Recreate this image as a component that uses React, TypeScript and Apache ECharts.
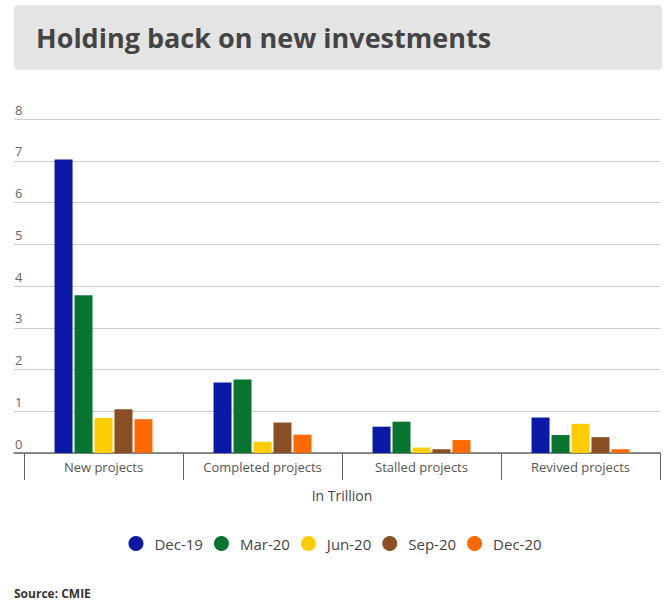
import React, { useEffect, useRef } from "react";
import * as echarts from "echarts";

const categories = ["New projects", "Completed projects", "Stalled projects", "Revived projects"];
const seriesNames = ["Dec-19", "Mar-20", "Jun-20", "Sep-20", "Dec-20"];
const dec19 = [7.03, 1.69, 0.63, 0.85];
const mar20 = [3.78, 1.76, 0.75, 0.43];
const jun20 = [0.84, 0.27, 0.13, 0.7];
const sep20 = [1.05, 0.73, 0.09, 0.38];
const dec20 = [0.81, 0.44, 0.31, 0.09];
const colors = ["#0a1aa6", "#077530", "#ffcc00", "#8b4f26", "#ff6a00"];
const yTicks = [0, 1, 2, 3, 4, 5, 6, 7, 8];

const FONT = "'Open Sans', sans-serif";

export default function App() {
  const ref = useRef<HTMLDivElement>(null);
  useEffect(() => {
    if (!ref.current) return;
    const chart = echarts.init(ref.current, null, { renderer: "svg" });
    const values = [dec19, mar20, jun20, sep20, dec20];
    chart.setOption({
      animation: false,
      textStyle: { fontFamily: FONT },
      title: [
        {
          text: "Holding back on new investments",
          left: 31,
          top: 19,
          textStyle: { fontFamily: FONT, fontSize: 27, fontWeight: "bold", color: "#444" },
        },
        {
          text: "Source: CMIE",
          left: 9,
          top: 582,
          textStyle: { fontFamily: FONT, fontSize: 12, fontWeight: "bold", color: "#333" },
        },
      ],
      graphic: [
        {
          type: "rect",
          z: -10,
          shape: { x: 14, y: 5, width: 648, height: 65, r: 4 },
          style: { fill: "#e4e4e4" },
        },
      ],
      legend: {
        data: seriesNames,
        top: 531,
        left: "center",
        icon: "circle",
        itemWidth: 15,
        itemHeight: 15,
        itemGap: 11,
        textStyle: { fontFamily: FONT, fontSize: 15, color: "#444", padding: [0, 0, 0, 6] },
      },
      grid: [
        { left: 14, right: 10, top: 119, bottom: 148 },
        { left: 24, right: 10, top: 119, bottom: 148 },
      ],
      xAxis: [
        {
          type: "value",
          gridIndex: 0,
          min: 0,
          max: 1,
          axisLine: { show: true, onZero: false, lineStyle: { color: "#666", width: 1.5 } },
          axisTick: { show: false },
          axisLabel: { show: false },
          splitLine: { show: false },
        },
        {
          type: "category",
          gridIndex: 1,
          data: categories,
          axisLine: { show: false },
          axisTick: { show: true, length: 27, lineStyle: { color: "#666", width: 1 } },
          axisLabel: { color: "#555", fontSize: 13, fontFamily: FONT, margin: 7 },
          name: "In Trillion",
          nameLocation: "middle",
          nameGap: 35,
          nameTextStyle: { color: "#444", fontSize: 14, fontFamily: FONT },
        },
      ],
      yAxis: [
        {
          type: "value",
          gridIndex: 0,
          min: yTicks[0],
          max: yTicks[yTicks.length - 1],
          interval: 1,
          axisLine: { show: false },
          axisTick: { show: false },
          axisLabel: {
            inside: true,
            margin: 1,
            color: "#666",
            fontSize: 13,
            fontFamily: FONT,
            verticalAlign: "bottom",
            padding: [0, 0, 3, 0],
          },
          splitLine: { lineStyle: { color: "#cccccc", width: 1 } },
        },
        {
          type: "value",
          gridIndex: 1,
          min: yTicks[0],
          max: yTicks[yTicks.length - 1],
          interval: 1,
          show: false,
          splitLine: { show: false },
        },
      ],
      series: seriesNames.map((name, i) => ({
        name,
        type: "bar",
        xAxisIndex: 1,
        yAxisIndex: 1,
        data: values[i],
        barWidth: 18,
        barGap: "11%",
        itemStyle: { color: colors[i] },
      })),
    });
    return () => chart.dispose();
  }, []);
  return (
    <div
      ref={ref}
      style={{ position: "absolute", left: 0, top: 0, width: 670, height: 601, background: "#fff" }}
    />
  );
}
